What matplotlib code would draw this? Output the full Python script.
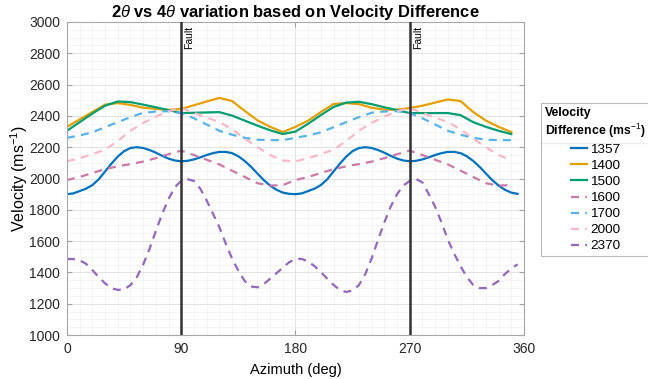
import numpy as np
import matplotlib
matplotlib.use("Agg")
import matplotlib.pyplot as plt
from matplotlib.ticker import MultipleLocator
from matplotlib.lines import Line2D

plt.rcParams['font.family'] = ['Liberation Sans', 'DejaVu Sans']
plt.rcParams['mathtext.fontset'] = 'custom'
plt.rcParams['mathtext.it'] = 'Liberation Sans:italic'
plt.rcParams['mathtext.bf'] = 'Liberation Sans:bold'
plt.rcParams['mathtext.rm'] = 'Liberation Sans'

# azimuth samples (deg): coarse for the piecewise curves, fine for the smooth ones
azimuth = list(range(0, 360, 10))
azimuth_fine = list(range(0, 360, 5))

v1357 = [1900, 1905, 1920, 1935, 1958, 1995, 2045, 2095, 2140, 2175, 2195, 2200,
         2195, 2182, 2165, 2145, 2127, 2115, 2110, 2113, 2122, 2135, 2150, 2162,
         2170, 2170, 2162, 2142, 2112, 2075, 2032, 1990, 1955, 1928, 1910, 1902,
         1900, 1905, 1920, 1935, 1958, 1995, 2045, 2095, 2140, 2175, 2195, 2200,
         2195, 2182, 2165, 2145, 2127, 2115, 2110, 2113, 2122, 2135, 2150, 2162,
         2170, 2170, 2162, 2142, 2112, 2075, 2032, 1990, 1955, 1928, 1910, 1902]
v1400 = [2330, 2378, 2425, 2472, 2482, 2470, 2452, 2445, 2438, 2444, 2468, 2492, 2515, 2495, 2432, 2372, 2330, 2297,
         2330, 2370, 2425, 2476, 2482, 2475, 2452, 2440, 2440, 2450, 2465, 2485, 2505, 2495, 2425, 2370, 2330, 2297]
v1500 = [2305, 2360, 2415, 2465, 2492, 2488, 2472, 2455, 2437, 2418, 2420, 2422, 2424, 2402, 2370, 2338, 2308, 2284,
         2300, 2350, 2405, 2457, 2485, 2490, 2475, 2455, 2437, 2418, 2418, 2418, 2418, 2405, 2360, 2330, 2305, 2284]
v1600 = [1990, 2010, 2035, 2060, 2078, 2092, 2108, 2130, 2155, 2178, 2150, 2120, 2090, 2050, 2010, 1970, 1955, 1958,
         1990, 2010, 2035, 2060, 2078, 2092, 2108, 2130, 2155, 2178, 2150, 2120, 2090, 2050, 2010, 1970, 1955, 1958]
v1700 = [2260, 2275, 2295, 2328, 2360, 2392, 2420, 2428, 2430, 2418, 2385, 2345, 2305, 2280, 2260, 2248, 2245, 2245,
         2260, 2275, 2295, 2328, 2360, 2392, 2420, 2428, 2430, 2418, 2385, 2345, 2305, 2280, 2260, 2248, 2245, 2245]
v2000 = [2110, 2130, 2155, 2185, 2240, 2305, 2355, 2395, 2430, 2450, 2420, 2390, 2360, 2315, 2255, 2200, 2150, 2115,
         2110, 2130, 2155, 2185, 2240, 2305, 2355, 2395, 2430, 2450, 2420, 2390, 2360, 2315, 2255, 2200, 2150, 2115]
v2370 = [1486, 1485, 1478, 1455, 1415, 1370, 1330, 1300, 1288, 1292, 1319, 1370,
         1450, 1550, 1665, 1775, 1870, 1945, 1985, 1995, 1985, 1935, 1860, 1775,
         1690, 1585, 1490, 1410, 1345, 1310, 1305, 1325, 1360, 1395, 1430, 1465,
         1486, 1486, 1470, 1440, 1402, 1360, 1320, 1288, 1275, 1285, 1319, 1390,
         1490, 1607, 1720, 1820, 1900, 1955, 1985, 1997, 1975, 1900, 1820, 1720,
         1610, 1520, 1440, 1370, 1320, 1300, 1300, 1320, 1345, 1390, 1425, 1452]

series = [
    ("1357", azimuth_fine, v1357, "#0072BD", "-"),
    ("1400", azimuth, v1400, "#E69F00", "-"),
    ("1500", azimuth, v1500, "#009E73", "-"),
    ("1600", azimuth, v1600, "#CC79A7", "--"),
    ("1700", azimuth, v1700, "#56B4E9", "--"),
    ("2000", azimuth, v2000, "#F9B8C8", "--"),
    ("2370", azimuth_fine, v2370, "#9467BD", "--"),
]
fault_az = [90, 270]

fig = plt.figure(figsize=(6.48, 3.79), dpi=100)
ax = fig.add_axes([0.1034, 0.116, 0.7052, 0.826])

for label, x, vals, color, ls in series:
    if ls == "-":
        ax.plot(x, vals, color=color, lw=1.6, label=label)
    else:
        ax.plot(x, vals, color=color, lw=1.6, dashes=(3.6, 2.8), label=label)

for f in fault_az:
    ax.axvline(f, color="#333333", lw=1.8, zorder=5)
    ax.text(f + 2.5, 2975, "Fault", rotation=90, ha="left", va="top", fontsize=7.5)

ax.set_xlim(0, 360)
ax.set_ylim(1000, 3000)
ax.set_xticks([0, 90, 180, 270, 360])
ax.set_yticks(range(1000, 3001, 200))
ax.xaxis.set_minor_locator(MultipleLocator(10))
ax.yaxis.set_minor_locator(MultipleLocator(50))
ax.grid(which="major", color="#dedede", lw=0.6)
ax.grid(which="minor", color="#f0f0f0", lw=0.5)
ax.set_axisbelow(True)
ax.tick_params(which="both", direction="in", top=True, right=True, colors="#262626",
               labelsize=10)
ax.tick_params(which="major", length=3.5, color="#a0a0a0", pad=5)
ax.tick_params(which="minor", length=0)
for sp in ax.spines.values():
    sp.set_color("#a8a8a8")
    sp.set_linewidth(0.8)

ax.set_xlabel("Azimuth (deg)", fontsize=10.5, labelpad=5)
ax.set_ylabel("Velocity (ms$^{-1}$)", fontsize=11.5, labelpad=-1)
ax.set_title(r"2$\theta$ vs 4$\theta$ variation based on Velocity Difference",
             fontsize=11.9, fontweight="bold", pad=3)

leg = fig.legend(loc="upper left", bbox_to_anchor=(0.835, 0.728), fontsize=9.7,
                 title="Velocity\nDifference (ms$^{-1}$)", alignment="center",
                 title_fontproperties={"weight": "bold", "size": 8.8},
                 frameon=True, fancybox=False, edgecolor="#a8a8a8",
                 handlelength=1.2, handletextpad=0.2, labelspacing=0.27,
                 borderpad=0.3, borderaxespad=0)
leg.get_frame().set_linewidth(0.8)
leg.get_title().set_multialignment("left")

fig.canvas.draw()
inv = fig.transFigure.inverted()
lb = inv.transform(leg.get_window_extent())
tb = inv.transform(leg.get_title().get_window_extent())
ysep = tb[0][1] - 0.008
fig.add_artist(Line2D([lb[0][0], lb[1][0]], [ysep, ysep], color="#a8a8a8", lw=0.8))

fig.savefig("out.png", dpi=100)
